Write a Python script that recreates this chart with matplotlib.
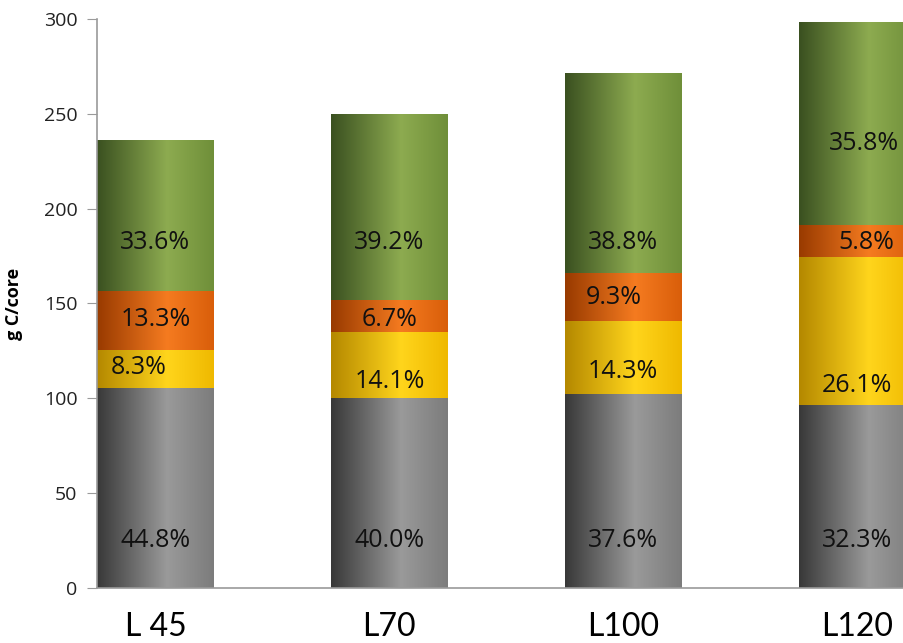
import numpy as np
import matplotlib
matplotlib.use("Agg")
import matplotlib.pyplot as plt
from matplotlib.colors import LinearSegmentedColormap

# g C per core, stacked bottom -> top
cores = ["L 45", "L70", "L100", "L120"]
gray_vals = [105.7, 100.0, 102.1, 96.4]
yellow_vals = [19.6, 35.2, 38.8, 77.9]
orange_vals = [31.4, 16.8, 25.2, 17.3]
green_vals = [79.3, 98.0, 105.3, 106.8]

gray_pct = ["44.8%", "40.0%", "37.6%", "32.3%"]
yellow_pct = ["8.3%", "14.1%", "14.3%", "26.1%"]
orange_pct = ["13.3%", "6.7%", "9.3%", "5.8%"]
green_pct = ["33.6%", "39.2%", "38.8%", "35.8%"]

# where the labels sit (y in data units, x offset in bar units)
gray_lab_y = [25.3, 25.3, 25.3, 25.3]
yellow_lab_y = [116.0, 109.1, 113.9, 107.0]
orange_lab_y = [141.3, 141.3, 153.4, 181.9]
green_lab_y = [182.4, 182.4, 182.4, 234.6]
yellow_dx = [-0.07, 0.0, 0.0, 0.0]
orange_dx = [0.0, 0.0, -0.04, 0.04]
green_dx = [0.0, 0.0, 0.0, 0.03]

# cylinder-ish shading: dark left, light ~60%, a bit darker right
shades = {
    "gray": ["#383838", "#9a9a9a", "#7c7c7c"],
    "yellow": ["#b48800", "#ffd51c", "#efb900"],
    "orange": ["#983a00", "#f57b20", "#d95e0a"],
    "green": ["#3a5020", "#8dab50", "#6f8f39"],
}

fig = plt.figure(figsize=(9.04, 6.43), dpi=100)
ax = fig.add_axes([0.1073, 0.0855, 0.8927, 0.885])

x = np.arange(len(cores))
width = 0.5
grad = np.linspace(0, 1, 256).reshape(1, -1)

bottom = np.zeros(len(cores))
segs = [("gray", gray_vals), ("yellow", yellow_vals),
        ("orange", orange_vals), ("green", green_vals)]
for name, vals in segs:
    bars = ax.bar(x, vals, width, bottom=bottom, color="none",
                  edgecolor="none", zorder=2)
    cmap = LinearSegmentedColormap.from_list(
        name, list(zip([0.0, 0.6, 1.0], shades[name])))
    for p in bars.patches:
        im = ax.imshow(grad, cmap=cmap, aspect="auto", origin="lower",
                       extent=[p.get_x(), p.get_x() + p.get_width(),
                               p.get_y(), p.get_y() + p.get_height()],
                       zorder=2, interpolation="bilinear")
        im.set_clip_path(p)
    bottom += np.array(vals)

lab_font = dict(fontsize=18, family=["Open Sans", "DejaVu Sans"],
                color="#111111", ha="center", va="center", zorder=4)
for i in range(len(cores)):
    ax.text(x[i], gray_lab_y[i], gray_pct[i], **lab_font)
    ax.text(x[i] + yellow_dx[i], yellow_lab_y[i], yellow_pct[i], **lab_font)
    ax.text(x[i] + orange_dx[i], orange_lab_y[i], orange_pct[i], **lab_font)
    ax.text(x[i] + green_dx[i], green_lab_y[i], green_pct[i], **lab_font)

ax.set_xlim(-0.25, 3.2)
ax.set_ylim(0, 300)
ax.set_yticks(range(0, 301, 50))
ax.set_xticks(x)
ax.set_xticklabels(cores, fontsize=23, family=["Lato", "DejaVu Sans"])
ax.tick_params(axis="x", length=0, pad=17)
ax.tick_params(axis="y", length=7, color="#9a9a9a", labelsize=14,
               labelcolor="#222222", pad=7)
for lab in ax.get_yticklabels():
    lab.set_family(["Open Sans", "DejaVu Sans"])

ax.set_ylabel("g C/core", fontsize=13, fontweight="bold",
              family=["Open Sans", "DejaVu Sans"])
ax.yaxis.set_label_coords(-0.092, 0.5)

for s in ["top", "right"]:
    ax.spines[s].set_visible(False)
ax.spines["left"].set_color("#9a9a9a")
ax.spines["bottom"].set_color("#9a9a9a")
ax.spines["left"].set_linewidth(1.2)
ax.spines["bottom"].set_linewidth(1.2)

fig.savefig("out.png", dpi=100)
